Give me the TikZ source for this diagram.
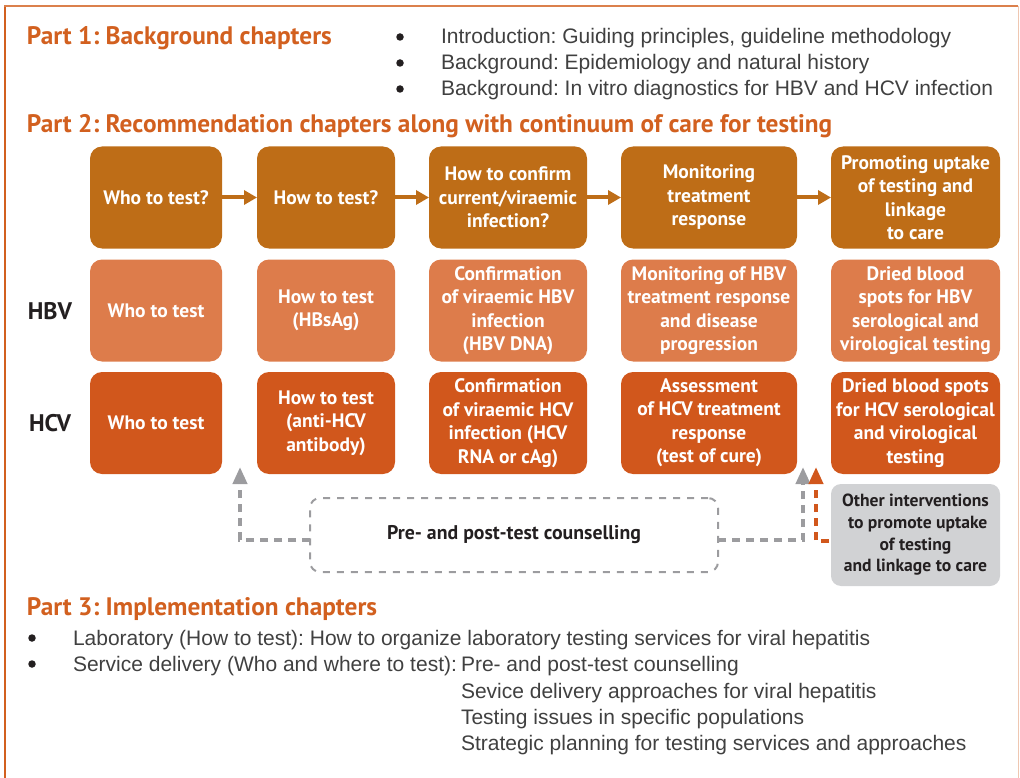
\documentclass[tikz,border=0pt]{standalone}
\usepackage{fontspec}
\setmainfont{Liberation Sans}
\newfontfamily\ptb{PT Sans}
\usetikzlibrary{arrows.meta}
\definecolor{hdr}{HTML}{D2601F}
\definecolor{rowA}{HTML}{BE6D17}
\definecolor{rowB}{HTML}{DD7C4B}
\definecolor{rowC}{HTML}{D1571C}
\definecolor{gry}{HTML}{9C9C9F}
\definecolor{gbox}{HTML}{D1D2D4}
\definecolor{txt}{HTML}{231F20}
\definecolor{bodyc}{HTML}{404040}
\frenchspacing
\begin{document}
\begin{tikzpicture}[x=1pt,y=-1pt,
  every node/.style={inner sep=0pt,outer sep=0pt},
  hdrtext/.style={anchor=base west,text=hdr,font=\ptb\bfseries\fontsize{25.3}{30}\selectfont},
  bodytext/.style={anchor=base west,text=bodyc,font=\fontsize{21}{25}\selectfont},
  bul/.style={circle,fill=txt,minimum size=7.5pt},
  cbox/.style={rounded corners=12pt,align=center,text=white,minimum height=102pt,
    font=\ptb\bfseries\fontsize{19.5}{23.5}\selectfont},
  rowlabel/.style={text=txt,font=\ptb\bfseries\fontsize{24}{28}\selectfont},
  flowarr/.style={draw=rowA,line width=4pt,-{Triangle[length=13pt,width=14pt]}},
  garr/.style={draw=gry,line width=4pt,dash pattern=on 8pt off 6pt,-{Triangle[length=17pt,width=14pt]}},
  oarr/.style={draw=rowC,line width=4pt,dash pattern=on 8pt off 6pt,-{Triangle[length=17pt,width=14pt]}}
]
\useasboundingbox (0,0) rectangle (1020,778);
% frame
\draw[hdr,line width=2.2pt] (5,778) -- (5,6);
\draw[hdr!80,line width=1.6pt] (4,6) -- (1018,6);
\draw[hdr!35,line width=1pt] (1018,6) -- (1018,778);

% Part 1
\node[hdrtext] (p1) at (27,45) {Part 1: Background chapters};
\node[bul] (b11) at (400,37) {};
\node[bul] (b12) at (400,63) {};
\node[bul] (b13) at (400,89) {};
\node[bodytext] (t11) at (441,44) {Introduction: Guiding principles, guideline methodology};
\node[bodytext] (t12) at (441,70) {Background: Epidemiology and natural history};
\node[bodytext] (t13) at (441,96) {Background: In vitro diagnostics for HBV and HCV infection};

% Part 2
\node[hdrtext] (p2) at (27,133) {Part 2: Recommendation chapters along with continuum of care for testing};

% row 1
\node[cbox,fill=rowA,minimum width=132pt] (a1) at (156,197.5) {Who to test?};
\node[cbox,fill=rowA,minimum width=138pt] (a2) at (326,197.5) {How to test?};
\node[cbox,fill=rowA,minimum width=158pt] (a3) at (508,197.5) {How to confirm\\current/viraemic\\infection?};
\node[cbox,fill=rowA,minimum width=176pt] (a4) at (709,197.5) {Monitoring\\treatment\\response};
\node[cbox,fill=rowA,minimum width=169pt] (a5) at (915.5,197.5) {Promoting uptake\\of testing and\\linkage\\to care};
\draw[flowarr] (a1) -- (a2);
\draw[flowarr] (a2) -- (a3);
\draw[flowarr] (a3) -- (a4);
\draw[flowarr] (a4) -- (a5);

% row 2
\node[rowlabel] (hbv) at (50,311) {HBV};
\node[cbox,fill=rowB,minimum width=132pt] (b1) at (156,310.5) {Who to test};
\node[cbox,fill=rowB,minimum width=138pt] (b2) at (326,310.5) {How to test\\(HBsAg)};
\node[cbox,fill=rowB,minimum width=158pt] (b3) at (508,310.5) {Confirmation\\of viraemic HBV\\infection\\(HBV DNA)};
\node[cbox,fill=rowB,minimum width=176pt] (b4) at (709,310.5) {Monitoring of HBV\\treatment response\\and disease\\progression};
\node[cbox,fill=rowB,minimum width=169pt] (b5) at (915.5,310.5) {Dried blood\\spots for HBV\\serological and\\virological testing};

% row 3
\node[rowlabel] (hcv) at (50,423) {HCV};
\node[cbox,fill=rowC,minimum width=132pt] (c1) at (156,423) {Who to test};
\node[cbox,fill=rowC,minimum width=138pt] (c2) at (326,423) {How to test\\(anti-HCV\\antibody)};
\node[cbox,fill=rowC,minimum width=158pt] (c3) at (508,423) {Confirmation\\of viraemic HCV\\infection (HCV\\RNA or cAg)};
\node[cbox,fill=rowC,minimum width=176pt] (c4) at (709,423) {Assessment\\of HCV treatment\\response\\(test of cure)};
\node[cbox,fill=rowC,minimum width=169pt] (c5) at (915.5,423) {Dried blood spots\\for HCV serological\\and virological\\testing};

% counselling
\node[draw=gry,line width=2pt,dash pattern=on 7pt off 7pt,rounded corners=10pt,
  minimum width=408pt,minimum height=74pt,text=txt,
  font=\ptb\bfseries\fontsize{19.8}{24}\selectfont] (cns) at (514,535) {Pre- and post-test counselling};
\node[fill=gbox,rounded corners=10pt,minimum width=169pt,minimum height=102pt,align=center,text=txt,
  font=\ptb\bfseries\fontsize{17.6}{21.7}\selectfont] (oth) at (915.5,535) {Other interventions\\\ to promote uptake\\of testing\\and linkage to care};

\coordinate (gl) at (240,467);
\coordinate (gr) at (803,467);
\coordinate (og) at (816,467);
\path (cns.west) ++(0,5) coordinate (cw);
\path (cns.east) ++(0,5) coordinate (ce);
\path (oth.west) ++(-2,6) coordinate (ow);
\draw[garr] (cw) -| (gl);
\draw[garr] (ce) -| (gr);
\draw[oarr] (ow) -| (og);

% Part 3
\node[hdrtext] (p3) at (27,615) {Part 3: Implementation chapters};
\node[bul] (b31) at (32,638) {};
\node[bul] (b32) at (32,664) {};
\node[bodytext] (t31) at (73,645) {Laboratory (How to test): How to organize laboratory testing services for viral hepatitis};
\node[bodytext] (t32) at (73,671) {Service delivery (Who and where to test):};
\node[bodytext] (s1) at (461,671) {Pre- and post-test counselling};
\node[bodytext] (s2) at (461,698) {Sevice delivery approaches for viral hepatitis};
\node[bodytext] (s3) at (461,724) {Testing issues in specific populations};
\node[bodytext] (s4) at (461,750) {Strategic planning for testing services and approaches};
\end{tikzpicture}
\end{document}
